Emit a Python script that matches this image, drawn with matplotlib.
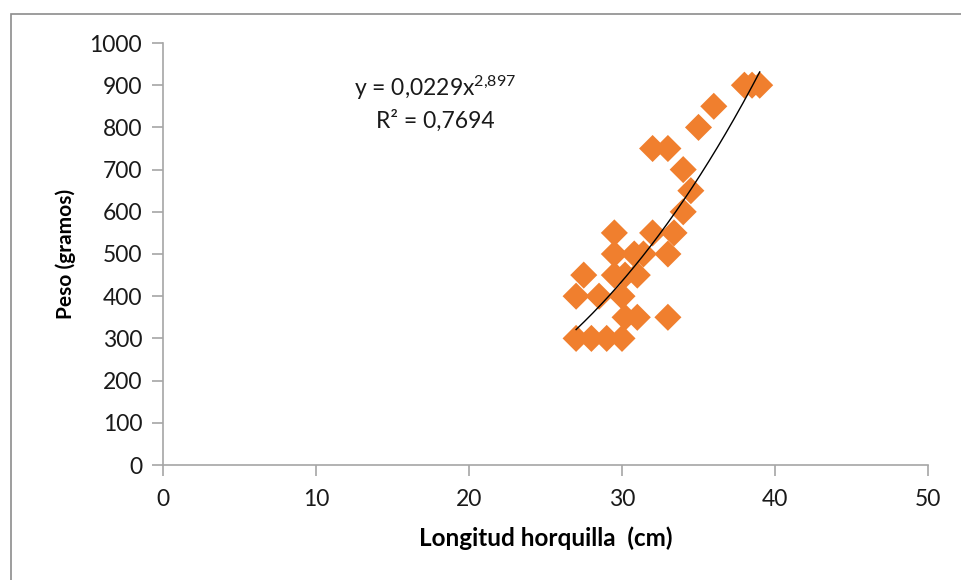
import matplotlib.pyplot as plt
import numpy as np
from matplotlib.patches import Rectangle

plt.rcParams['font.family'] = ['Lato', 'DejaVu Sans']
plt.rcParams['mathtext.fontset'] = 'custom'
plt.rcParams['mathtext.rm'] = 'Lato'
plt.rcParams['mathtext.it'] = 'Lato'

# datos
longitud = [27, 28, 29, 30,
            27, 28.5, 30,
            27.5, 29.5, 30.2, 31,
            29.5, 30.8, 31.4, 33,
            29.5, 32, 33.4,
            30.2, 31, 33,
            32, 33, 34, 34.5, 34, 35, 36, 38, 38.5, 39]
peso = [300, 300, 300, 300,
        400, 400, 400,
        450, 450, 450, 450,
        500, 500, 500, 500,
        550, 550, 550,
        350, 350, 350,
        750, 750, 700, 650, 600, 800, 850, 900, 900, 900]

# linea de tendencia potencial (coeficientes del grafico)
coef_a = 0.0229
coef_b = 2.897

fig = plt.figure(figsize=(9.61, 5.80), dpi=100)
# marco exterior del grafico
fig.patches.append(Rectangle((11/961, -0.1), 1.2, 1 - 14/580 + 0.1, transform=fig.transFigure,
                             fill=False, edgecolor='#8c8c8c', linewidth=1.2))

ax = fig.add_axes([163/961, 115/580, 765/961, 422/580])

ax.scatter(longitud, peso, marker='D', s=190, color='#F07F2E', edgecolors='none', zorder=2)

xs = np.linspace(min(longitud), max(longitud), 200)
ax.plot(xs, coef_a * xs ** coef_b, color='black', linewidth=1, zorder=3)

ax.set_xlim(0, 50)
ax.set_ylim(0, 1000)
ax.set_xticks(np.arange(0, 51, 10))
ax.set_yticks(np.arange(0, 1001, 100))

for s in ['top', 'right']:
    ax.spines[s].set_visible(False)
for s in ['left', 'bottom']:
    ax.spines[s].set_color('#a6a6a6')
    ax.spines[s].set_linewidth(1.2)
ax.tick_params(axis='both', colors='#a6a6a6', length=8, width=1.2, labelsize=16.5,
               labelcolor='#1a1a1a', direction='out')
ax.tick_params(axis='x', pad=9)
ax.tick_params(axis='y', pad=7)

ax.set_xlabel('Longitud horquilla  (cm)', fontsize=17.5, fontweight='bold', labelpad=12)
ax.set_ylabel('Peso (gramos)', fontsize=15, fontweight='bold', labelpad=10)

ax.text(435/961, 1 - 88/580, 'y = 0,0229x$^{2{,}897}$', transform=fig.transFigure,
        ha='center', va='center', fontsize=16.5, color='#1a1a1a')
ax.text(435/961, 1 - 121/580, 'R² = 0,7694', transform=fig.transFigure,
        ha='center', va='center', fontsize=16.5, color='#1a1a1a')

plt.savefig('out.png', dpi=100)
